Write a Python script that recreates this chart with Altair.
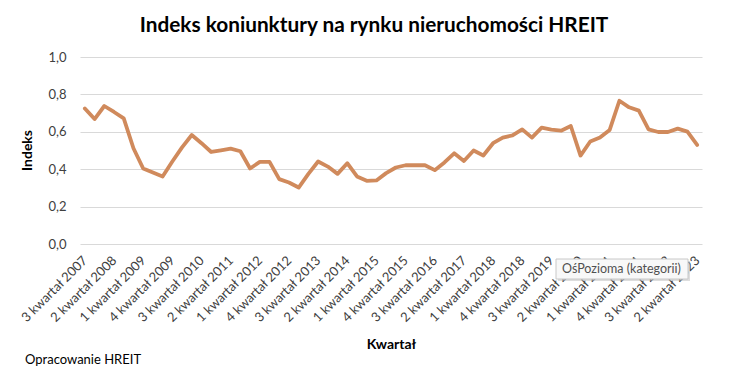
import altair as alt
import pandas as pd

# Quarter categories: 3 kwartał 2007 ... 2 kwartał 2023
start_year = 2007
start_q = 3
n_points = 64
quarters = []
y, q = start_year, start_q
for _ in range(n_points):
    quarters.append(f"{q} kwartał {y}")
    q += 1
    if q > 4:
        q = 1
        y += 1

values = [
    0.725, 0.668, 0.738, 0.706, 0.672, 0.512, 0.404, 0.382,
    0.361, 0.441, 0.517, 0.583, 0.539, 0.492, 0.501, 0.510,
    0.496, 0.404, 0.439, 0.439, 0.347, 0.329, 0.302, 0.375,
    0.441, 0.414, 0.375, 0.432, 0.361, 0.338, 0.340, 0.379,
    0.409, 0.421, 0.421, 0.421, 0.395, 0.436, 0.485, 0.444,
    0.500, 0.473, 0.539, 0.569, 0.581, 0.613, 0.569, 0.622,
    0.612, 0.606, 0.631, 0.473, 0.548, 0.569, 0.610, 0.766,
    0.731, 0.713, 0.613, 0.599, 0.599, 0.617, 0.601, 0.530,
]

y_ticks = [0.0, 0.2, 0.4, 0.6, 0.8, 1.0]
x_tick_labels = quarters[::3]

title_text = "Indeks koniunktury na rynku nieruchomości HREIT"
source_text = "Opracowanie HREIT"
tooltip_text = "OśPozioma (kategorii)"

FONT = "Lato"
LINE_COLOR = "#D08A5C"

df = pd.DataFrame({"kwartal": quarters, "indeks": values})

line = alt.Chart(df).mark_line(
    color=LINE_COLOR, strokeWidth=3.8, strokeJoin="round", strokeCap="round"
).encode(
    x=alt.X(
        "kwartal:N",
        sort=None,
        scale=alt.Scale(type="point", padding=0.5),
        axis=alt.Axis(
            values=x_tick_labels,
            labelAngle=-45,
            labelAlign="right",
            labelBaseline="middle",
            labelPadding=14,
            labelFontSize=13,
            labelColor="#404040",
            labelFont=FONT,
            labelOverlap=False,
            domain=False,
            ticks=False,
            grid=False,
            title="Kwartał",
            titleFont=FONT,
            titleFontSize=14,
            titleFontWeight="bold",
            titleColor="#000000",
            titleBaseline="alphabetic",
            titleY=104,
        ),
    ),
    y=alt.Y(
        "indeks:Q",
        scale=alt.Scale(domain=[0, 1]),
        axis=alt.Axis(
            values=y_ticks,
            labelExpr="replace(format(datum.value, '.1f'), '.', ',')",
            labelFontSize=13,
            labelColor="#404040",
            labelFont=FONT,
            labelPadding=14,
            domain=False,
            ticks=False,
            grid=True,
            gridColor="#D9D9D9",
            gridWidth=1,
            title="Indeks",
            titleFont=FONT,
            titleFontSize=14,
            titleFontWeight="bold",
            titleColor="#000000",
            titleX=-53,
            titleY=93,
            titleAngle=-90,
            titleAlign="center",
            titleBaseline="middle",
        ),
    ),
)

ann_df = pd.DataFrame({"t": [tooltip_text]})

shadow = alt.Chart(ann_df).mark_rect(fill="#BBBBBB", opacity=0.5).encode(
    x=alt.value(478), x2=alt.value(610), y=alt.value(204), y2=alt.value(224)
)
box = alt.Chart(ann_df).mark_rect(fill="#F8F8F8", stroke="#C8C8C8", strokeWidth=1).encode(
    x=alt.value(476), x2=alt.value(608), y=alt.value(202), y2=alt.value(222)
)
tip = alt.Chart(ann_df).mark_text(
    align="left", baseline="alphabetic", fontSize=12.5, font=FONT, color="#505050"
).encode(x=alt.value(482), y=alt.value(216), text="t:N")

src_df = pd.DataFrame({"t": [source_text]})
source = alt.Chart(src_df).mark_text(
    align="left", baseline="alphabetic", fontSize=13, font=FONT, color="#000000"
).encode(x=alt.value(-55), y=alt.value(307), text="t:N")

chart = alt.layer(line, shadow, box, tip, source).properties(
    width=622,
    height=187,
    autosize=alt.AutoSizeParams(type="none"),
    padding={"left": 72, "top": 49, "right": 19, "bottom": 126},
    title=alt.TitleParams(
        text=title_text,
        font=FONT,
        fontSize=20.8,
        fontWeight="bold",
        color="#000000",
        anchor="middle",
        dx=-17,
        offset=-2,
        baseline="alphabetic",
    ),
).configure_view(stroke=None)

chart.save("out.html", embed_options={"renderer": "svg", "actions": False})
